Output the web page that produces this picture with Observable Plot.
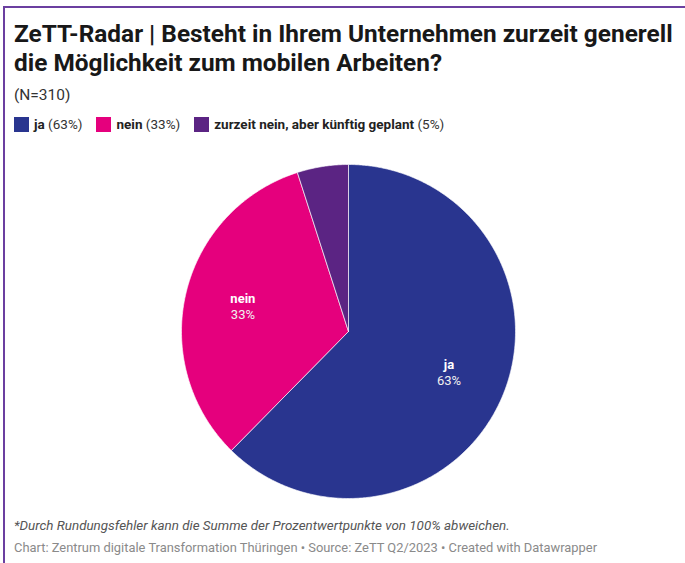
<!DOCTYPE html>
<html><head><meta charset="utf-8">
<script src="https://cdn.jsdelivr.net/npm/d3@7"></script>
<script src="https://cdn.jsdelivr.net/npm/@observablehq/plot@0.6"></script>
<style>
body{margin:0;background:#fff;font-family:Roboto,sans-serif;width:685px;height:563px;overflow:hidden;position:relative;}
#frame{position:absolute;left:3px;top:6px;right:0;bottom:0;border-top:2px solid #6b3fa0;border-left:2px solid #6b3fa0;}
#title{position:absolute;left:14px;top:19px;font-size:24.4px;line-height:29px;font-weight:700;color:#181818;white-space:nowrap;}
#sub{position:absolute;left:14px;top:86px;font-size:15.5px;color:#333;}
#legend{position:absolute;left:14px;top:116px;font-size:13.5px;color:#333;display:flex;white-space:nowrap;}
.li{display:flex;align-items:center;margin-right:14px;}
.sw{width:15px;height:15px;margin-right:5px;}
#chart{position:absolute;left:0;top:160px;}
#note{position:absolute;left:14px;top:518px;font-size:13.4px;font-style:italic;color:#555;}
#credit{position:absolute;left:14px;top:540px;font-size:12.9px;color:#8a8a8a;}
</style></head>
<body>
<div id="frame"></div>
<div id="title">ZeTT-Radar | Besteht in Ihrem Unternehmen zurzeit generell<br>die Möglichkeit zum mobilen Arbeiten?</div>
<div id="sub">(N=310)</div>
<div id="legend"></div>
<div id="chart"></div>
<div id="note">*Durch Rundungsfehler kann die Summe der Prozentwertpunkte von 100% abweichen.</div>
<div id="credit">Chart: Zentrum digitale Transformation Thüringen • Source: ZeTT Q2/2023 • Created with Datawrapper</div>
<script>
const categories = ["ja", "nein", "zurzeit nein, aber künftig geplant"];
const shortLabels = ["ja", "nein", ""];
const values = [63, 33, 5];
const colors = ["#29358f", "#e5007d", "#5b2483"];

// legend
const leg = document.getElementById("legend");
categories.forEach((c, i) => {
  const d = document.createElement("div");
  d.className = "li";
  d.innerHTML = `<span class="sw" style="background:${colors[i]}"></span><b style="font-weight:700;color:#222">${c}</b>&nbsp;(${values[i]}%)`;
  leg.appendChild(d);
});

const data = categories.map((c, i) => ({category: c, short: shortLabels[i], value: values[i]}));
const arcs = d3.pie().sort(null).value(d => d.value)(data);

// polygon outline per slice, in unit-circle coords (angle 0 at top, clockwise)
const poly = [];
arcs.forEach(a => {
  const n = Math.max(2, Math.ceil((a.endAngle - a.startAngle) / (Math.PI / 360)));
  poly.push({category: a.data.category, x: 0, y: 0});
  for (let k = 0; k <= n; k++) {
    const t = a.startAngle + (a.endAngle - a.startAngle) * k / n;
    poly.push({category: a.data.category, x: Math.sin(t), y: Math.cos(t)});
  }
  poly.push({category: a.data.category, x: 0, y: 0});
});
const labels = arcs.filter(a => a.data.short).map(a => {
  const m = (a.startAngle + a.endAngle) / 2;
  return {name: a.data.short, pct: a.data.value + "%", x: 0.65 * Math.sin(m), y: 0.65 * Math.cos(m)};
});

const cx = 348, cy = 171, r = 167;
const plot = Plot.plot({
  width: 685, height: 345,
  margin: 0,
  x: {domain: [-1, 1], range: [cx - r, cx + r], axis: null},
  y: {domain: [-1, 1], range: [cy + r, cy - r], axis: null},
  color: {domain: categories, range: colors},
  style: {fontFamily: "Roboto, sans-serif", background: "transparent"},
  marks: [
    Plot.line(poly, {x: "x", y: "y", z: "category", fill: "category", stroke: "#ffffff", strokeWidth: 0.8, strokeOpacity: 0.8, curve: "linear"}),
    Plot.text(labels, {x: "x", y: "y", text: "name", dy: -8, fill: "#fff", fontWeight: "bold", fontSize: 13}),
    Plot.text(labels, {x: "x", y: "y", text: "pct", dy: 8, fill: "#f0f0f0", fontSize: 13})
  ]
});
document.getElementById("chart").appendChild(plot);
</script>
</body></html>
